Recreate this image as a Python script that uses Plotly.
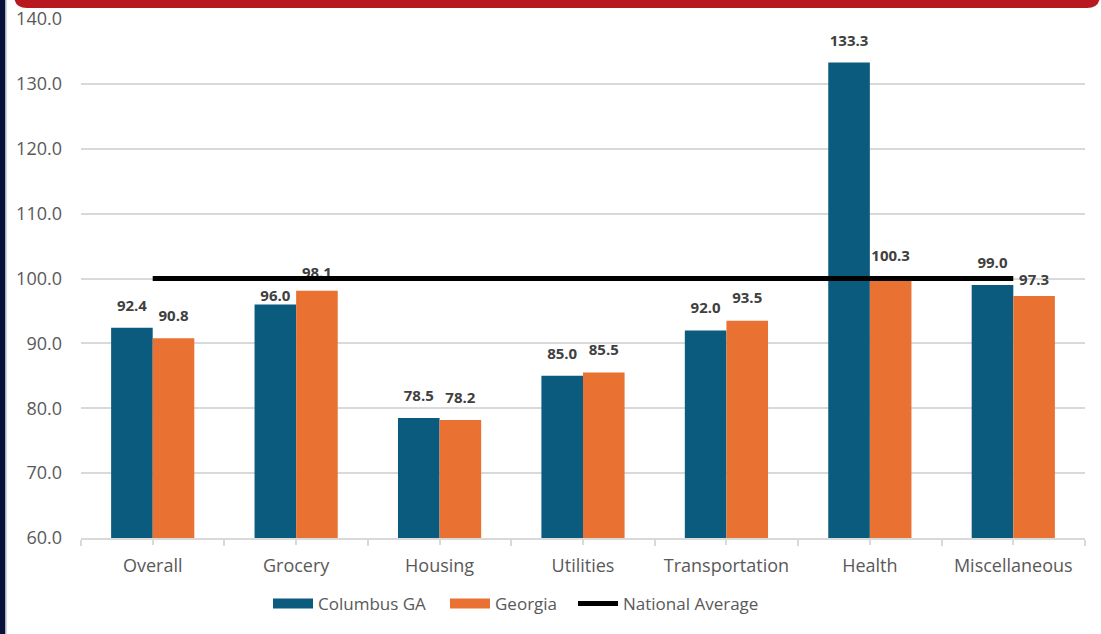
import plotly.graph_objects as go

# ---- data -------------------------------------------------------------
categories = ["Overall", "Grocery", "Housing", "Utilities",
              "Transportation", "Health", "Miscellaneous"]
columbus_ga = [92.4, 96.0, 78.5, 85.0, 92.0, 133.3, 99.0]
georgia = [90.8, 98.1, 78.2, 85.5, 93.5, 100.3, 97.3]
national_average = [100.0, 100.0, 100.0, 100.0, 100.0, 100.0, 100.0]
y_tick_values = [60, 70, 80, 90, 100, 110, 120, 130, 140]

# ---- style ------------------------------------------------------------
BLUE = "#0B5B7F"
ORANGE = "#E97132"
GRID = "#D9D9D9"
TICK_TEXT = "#595959"
LABEL_TEXT = "#404040"
FONT = "Open Sans"

# spacer sizes that lift each value label above its bar
columbus_label_lift = [20, 0, 20, 20, 20, 18, 20]
georgia_label_lift = [20, 13, 20, 20, 20, 18, 10]

W, H = 1101, 634
ML, MR, MT, MB = 81, 16, 19, 96
PW, PH = W - ML - MR, H - MT - MB


def px_x(p):
    """pixel column -> paper x"""
    return (p - ML) / PW


def px_y(q):
    """pixel row -> paper y"""
    return (H - MB - q) / PH


fig = go.Figure()

# bars
fig.add_trace(go.Bar(x=categories, y=columbus_ga, name="Columbus GA",
                     marker=dict(color=BLUE, line=dict(width=0)),
                     showlegend=False, hoverinfo="x+y"))
fig.add_trace(go.Bar(x=categories, y=georgia, name="Georgia",
                     marker=dict(color=ORANGE, line=dict(width=0)),
                     showlegend=False, hoverinfo="x+y"))

# value labels above each bar (grouped like the bars)
for vals, lift in ((columbus_ga, columbus_label_lift),
                   (georgia, georgia_label_lift)):
    fig.add_trace(go.Scatter(
        x=categories, y=vals, mode="markers+text", orientation="v",
        marker=dict(size=lift, opacity=0),
        text=[f"{v:.1f}" for v in vals], textposition="top center",
        textfont=dict(family=FONT, size=15, color=LABEL_TEXT, weight="bold"),
        showlegend=False, hoverinfo="skip", cliponaxis=False))

# legend swatches, each in its own legend box
for name, color, lg in (("Columbus GA", BLUE, "legend"),
                        ("Georgia", ORANGE, "legend2")):
    fig.add_trace(go.Scatter(x=[categories[0]], y=[None], xaxis="x2",
                             mode="lines", name=name, offsetgroup="na",
                             legend=lg,
                             line=dict(color=color, width=10),
                             hoverinfo="skip"))

# national average reference line
fig.add_trace(go.Scatter(x=categories, y=national_average, xaxis="x2",
                         mode="lines", name="National Average",
                         offsetgroup="na", legend="legend3",
                         line=dict(color="black", width=5),
                         hoverinfo="x+y"))

# frame decorations: dark left edge and red banner across the top
shapes = [
    dict(type="rect", xref="paper", yref="paper",
         x0=px_x(0), x1=px_x(5.5), y0=px_y(H), y1=px_y(0),
         fillcolor="#08113A", line=dict(width=0), layer="above"),
    dict(type="rect", xref="paper", yref="paper",
         x0=px_x(5.5), x1=px_x(7), y0=px_y(H), y1=px_y(0),
         fillcolor="#D3D6DE", line=dict(width=0), layer="above"),
]
r = 13
xl, xr, yb, yt = 14, 1100, 8, -30
path = (f"M{px_x(xl)},{px_y(yt)} "
        f"L{px_x(xl)},{px_y(yb - r)} "
        f"Q{px_x(xl)},{px_y(yb)} {px_x(xl + r)},{px_y(yb)} "
        f"L{px_x(xr - r)},{px_y(yb)} "
        f"Q{px_x(xr)},{px_y(yb)} {px_x(xr)},{px_y(yb - r)} "
        f"L{px_x(xr)},{px_y(yt)} Z")
shapes.append(dict(type="path", xref="paper", yref="paper", path=path,
                   fillcolor="#B8191F", line=dict(width=0), layer="above"))


def legend_box(left_px):
    return dict(orientation="h", x=px_x(left_px), xanchor="left",
                y=px_y(604), yanchor="middle",
                font=dict(family=FONT, size=17, color=TICK_TEXT),
                itemwidth=40, bgcolor="rgba(0,0,0,0)",
                borderwidth=0)


fig.update_layout(
    width=W, height=H,
    margin=dict(l=ML, r=MR, t=MT, b=MB, pad=0),
    paper_bgcolor="white", plot_bgcolor="white",
    font=dict(family=FONT, size=18, color=TICK_TEXT),
    barmode="group", bargap=0.42, bargroupgap=0,
    scattermode="group", scattergap=0.42,
    xaxis=dict(type="category", categoryorder="array",
               categoryarray=categories, range=[-0.5, 6.5],
               tickson="boundaries", ticks="outside", ticklen=6,
               tickwidth=1.5, tickcolor=GRID,
               showline=True, linecolor=GRID, linewidth=1.5,
               showgrid=False, zeroline=False, automargin=False,
               tickfont=dict(family=FONT, size=18, color=TICK_TEXT),
               ticklabelstandoff=11),
    xaxis2=dict(type="category", categoryorder="array",
                categoryarray=categories, range=[-0.5, 6.5],
                overlaying="x", anchor="y", side="bottom",
                showticklabels=False, ticks="outside", ticklen=6,
                tickwidth=1.5, tickcolor=GRID, automargin=False,
                showline=False, showgrid=False, zeroline=False),
    yaxis=dict(range=[60, 140], tickvals=y_tick_values, tickformat=".1f",
               showgrid=True, gridcolor=GRID, gridwidth=1.5,
               zeroline=False, showline=False, ticks="", automargin=False,
               tickfont=dict(family=FONT, size=18, color=TICK_TEXT),
               ticklabelstandoff=18),
    legend=legend_box(268),
    legend2=legend_box(445),
    legend3=legend_box(573),
    shapes=shapes,
    showlegend=True,
)

fig.write_html("out.html")
